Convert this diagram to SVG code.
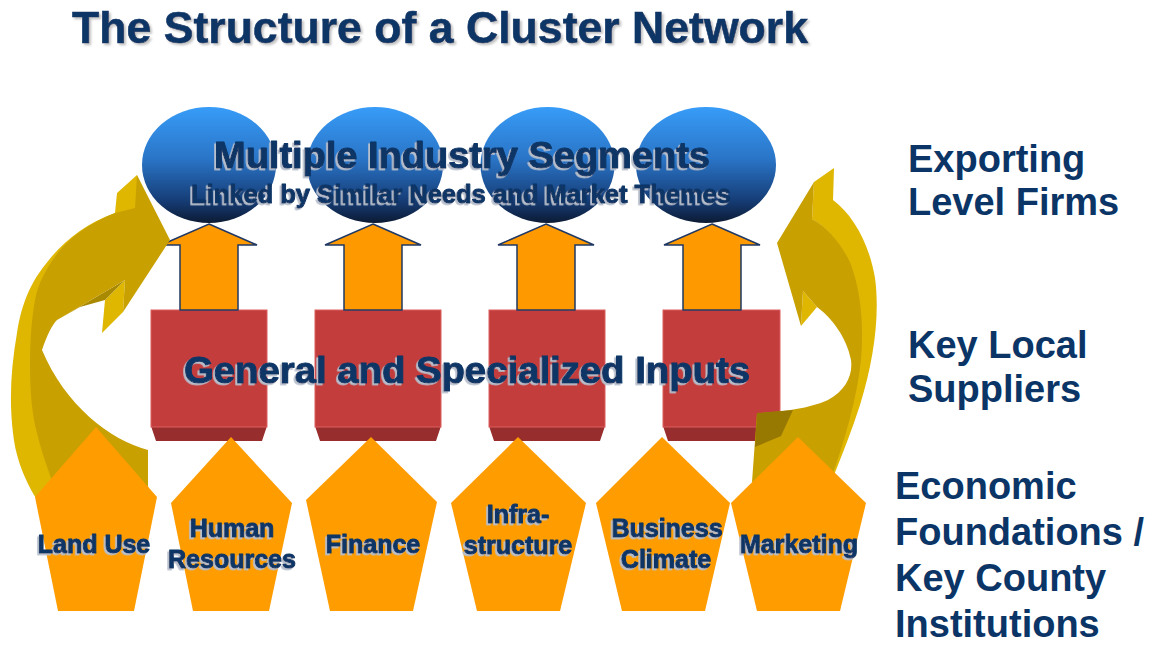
<svg xmlns="http://www.w3.org/2000/svg" width="1153" height="645" viewBox="0 0 1153 645">
  <defs>
    <linearGradient id="segFill" x1="0" y1="0" x2="0" y2="1">
      <stop offset="0" stop-color="#379cf8"/>
      <stop offset="0.45" stop-color="#2a74c6"/>
      <stop offset="0.8" stop-color="#163e78"/>
      <stop offset="1" stop-color="#0c1b34"/>
    </linearGradient>
    <filter id="txtShadow" x="-5%" y="-20%" width="110%" height="140%">
      <feDropShadow dx="-1.8" dy="1.8" stdDeviation="0.2" flood-color="#b7bfcc" flood-opacity="1"/>
    </filter>
    <filter id="titleShadow" x="-5%" y="-20%" width="110%" height="150%">
      <feDropShadow dx="2" dy="2" stdDeviation="1" flood-color="#9a9a9a" flood-opacity="0.6"/>
    </filter>
  </defs>
  <style>
    .t { font-family: "Liberation Sans", Arial, sans-serif; font-weight: bold; fill: #0b3566; }
    .title { font-size: 44px; stroke: #0b3566; stroke-width: 0.6; }
    .side { font-size: 38px; }
    .heavy { stroke: #0b3566; stroke-width: 1; stroke-linejoin: round; }
    .seg { fill: url(#segFill); }
    .up { fill: #ff9900; stroke: #1f3864; stroke-width: 1.5; stroke-linejoin: miter; }
    .boxFront { fill: #c43d3d; stroke: #dc5f5f; stroke-width: 1; }
    .boxBase { fill: #982d2d; }
    .pent { fill: #ff9c00; }
    .goldFront { fill: #c8a000; }
    .goldSide { fill: #dfb700; }
    .goldDark { fill: #a88900; }
    .goldDeep { fill: #977800; }
    .big { font-size: 36px; }
    .sub { font-size: 25px; }
    .found { font-size: 25px; text-anchor: middle; }
  </style>

  <rect width="1153" height="645" fill="#ffffff"/>

  <!-- heading -->
  <text class="t title" x="72" y="43" textLength="736" lengthAdjust="spacingAndGlyphs" filter="url(#titleShadow)">The Structure of a Cluster Network</text>

  <!-- industry segments -->
  <g id="segments">
    <g id="seg1"><ellipse class="seg" cx="209" cy="165" rx="67" ry="58"/></g>
    <g id="seg2"><ellipse class="seg" cx="375" cy="165" rx="68" ry="58"/></g>
    <g id="seg3"><ellipse class="seg" cx="547.5" cy="165" rx="67" ry="58"/></g>
    <g id="seg4"><ellipse class="seg" cx="706" cy="165" rx="70" ry="58"/></g>
    <g filter="url(#txtShadow)">
      <text class="t big heavy" x="462" y="168" text-anchor="middle" textLength="496" lengthAdjust="spacingAndGlyphs">Multiple Industry Segments</text>
      <text class="t sub heavy" x="461" y="203" text-anchor="middle" textLength="540" lengthAdjust="spacingAndGlyphs">Linked by Similar Needs and Market Themes</text>
    </g>
  </g>

  <!-- general and specialized inputs -->
  <g id="inputs">
    <g id="input1">
      <polygon class="boxBase" points="151,426 267,426 262,441 156,441"/>
      <rect class="boxFront" x="151" y="310" width="116" height="117"/>
    </g>
    <g id="input2">
      <polygon class="boxBase" points="315,426 441,426 436,441 320,441"/>
      <rect class="boxFront" x="315" y="310" width="126" height="117"/>
    </g>
    <g id="input3">
      <polygon class="boxBase" points="489,426 605,426 600,441 494,441"/>
      <rect class="boxFront" x="489" y="310" width="116" height="117"/>
    </g>
    <g id="input4">
      <polygon class="boxBase" points="663,426 780,426 775,441 668,441"/>
      <rect class="boxFront" x="663" y="310" width="117" height="117"/>
    </g>
    <text class="t big heavy" x="467" y="383" text-anchor="middle" textLength="566" lengthAdjust="spacingAndGlyphs" filter="url(#txtShadow)">General and Specialized Inputs</text>
  </g>

  <!-- connectors: block arrows up to the segments and the two looping arrows -->
  <g id="connectors">
    <polygon class="up" points="209,224 257,245 238,245 238,310 180,310 180,245 161,245"/>
    <polygon class="up" points="373,224 421,245 402,245 402,310 344,310 344,245 325,245"/>
    <polygon class="up" points="546,224 594,245 575,245 575,310 517,310 517,245 498,245"/>
    <polygon class="up" points="712,224 760,245 741,245 741,310 683,310 683,245 664,245"/>

    <!-- left loop arrow -->
    <g id="loopLeft">
      <path class="goldSide" d="M117,193 L137,175 L138,212 L118,216 C 84,229 62,252 46,275 C 36,300 33,335 33,367 C 33,400 38,433 48,460 L 60,498 L 36,498 C 28,485 16,462 13,433 C 9,400 11,367 17,333 C 22,300 33,280 45,265 C 62,242 85,224 115,213 Z"/>
      <polygon class="goldSide" points="102,333 105,300 125,280 123,312"/>
      <polygon class="goldDark" points="57,320 125,280 105,300 80,307"/>
      <path class="goldFront" d="M170,240 L137,175 L135,208 L115,213 C 94,221 74,234 60,250 C 48,265 38,283 35,300 C 31,322 30,345 30,367 C 30,390 32,415 37,433 C 41,450 48,470 58,498 L 148,498 L148,450 C 110,440 65,405 42,350 C 47,335 52,325 57,320 L125,280 L123,312 Z"/>
    </g>

    <!-- right loop arrow -->
    <g id="loopRight">
      <path class="goldSide" d="M814,182 L834,168 L833,200 C 853,215 869,243 875,278 C 880,315 874,360 860,405 C 852,430 842,455 832,480 L 826,480 C 838,440 856,395 859,360 C 863,320 858,288 848,262 C 838,240 825,226 812,219 Z"/>
      <polygon class="goldSide" points="803,291 817,307 801,326"/>
      <path class="goldFront" d="M777,243 L814,182 L812,219 C 826,226 840,242 850,262 C 861,290 864,325 861,360 C 857,398 845,440 830,482 L 752,482 L 757,413 C 780,412 808,409 828,400 C 846,390 853,375 851,360 C 847,338 832,318 817,307 L 803,291 L 801,326 Z"/>
      <polygon class="goldDeep" points="757,413 793,410 781,436 755,447"/>
    </g>
  </g>

  <!-- economic foundations -->
  <g id="foundations">
    <g id="landUse">
      <polygon class="pent" points="96,427 157,497 134,611 58,611 35,497"/>
      <text class="t found heavy" x="94" y="553" filter="url(#txtShadow)">Land Use</text>
    </g>
    <g id="humanResources">
      <polygon class="pent" points="231,437 292,503 269,611 193,611 171,503"/>
      <text class="t found heavy" x="232" y="537" filter="url(#txtShadow)">Human</text>
      <text class="t found heavy" x="232" y="568" filter="url(#txtShadow)">Resources</text>
    </g>
    <g id="finance">
      <polygon class="pent" points="371,437 437,502 413,611 330,611 306,500"/>
      <text class="t found heavy" x="373" y="553" filter="url(#txtShadow)">Finance</text>
    </g>
    <g id="infrastructure">
      <polygon class="pent" points="518,437 586,503 560,611 477,611 451,503"/>
      <text class="t found heavy" x="518" y="523" filter="url(#txtShadow)">Infra-</text>
      <text class="t found heavy" x="518" y="554" filter="url(#txtShadow)">structure</text>
    </g>
    <g id="businessClimate">
      <polygon class="pent" points="662,437 730,503 705,611 622,611 596,503"/>
      <text class="t found heavy" x="667" y="537" filter="url(#txtShadow)">Business</text>
      <text class="t found heavy" x="666" y="568" filter="url(#txtShadow)">Climate</text>
    </g>
    <g id="marketing">
      <polygon class="pent" points="798,437 866,503 840,611 757,611 731,503"/>
      <text class="t found heavy" x="799" y="553" filter="url(#txtShadow)">Marketing</text>
    </g>
  </g>

  <!-- level captions -->
  <g id="levels">
    <text class="t side" x="908" y="172">Exporting</text>
    <text class="t side" x="908" y="215">Level Firms</text>
    <text class="t side" x="908" y="358">Key Local</text>
    <text class="t side" x="908" y="402">Suppliers</text>
    <text class="t side" x="895" y="499">Economic</text>
    <text class="t side" x="895" y="545">Foundations /</text>
    <text class="t side" x="895" y="591">Key County</text>
    <text class="t side" x="895" y="637">Institutions</text>
  </g>
</svg>
